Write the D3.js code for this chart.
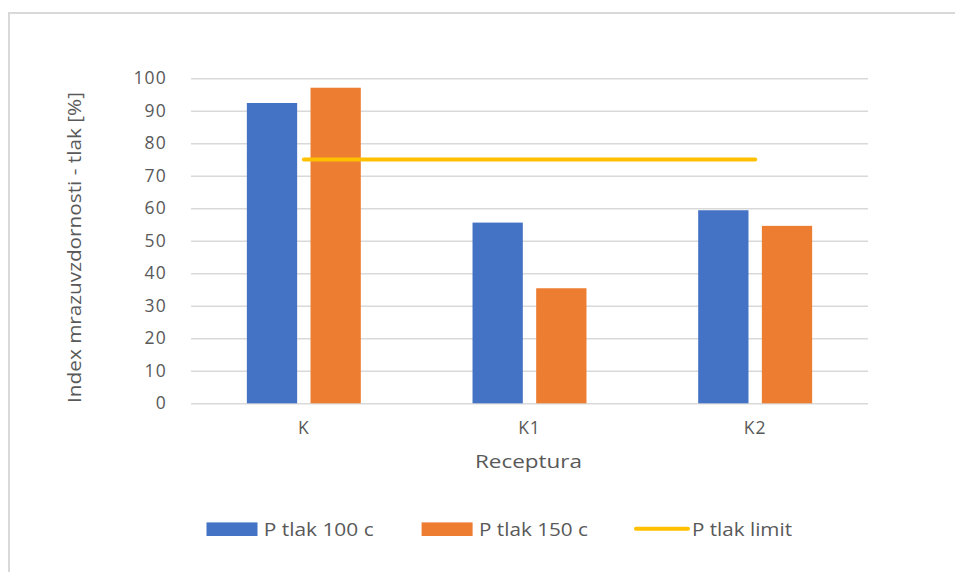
<!DOCTYPE html>
<html>
<head>
<meta charset="utf-8">
<script src="https://cdn.jsdelivr.net/npm/d3@7"></script>
<style>
  html, body { margin: 0; padding: 0; background: #ffffff; }
  svg { display: block; }
  text { font-family: "Open Sans", "Noto Sans", sans-serif; fill: #595959; }
</style>
</head>
<body>
<svg id="chart" width="955" height="572"></svg>
<script>
// Recipes on the category axis
const categories = ["K", "K1", "K2"];
// Series names
const seriesNames = ["P tlak 100 c", "P tlak 150 c"];
// Frost-resistance index (pressure) per recipe, %
const tlak100 = [92.4, 55.6, 59.4];
const tlak150 = [97.1, 35.4, 54.6];
// Required limit, same for every recipe
const limitName = "P tlak limit";
const limitValues = [75, 75, 75];
// Value-axis ticks
const yTicks = [0, 10, 20, 30, 40, 50, 60, 70, 80, 90, 100];

const colors = { blue: "#4472c4", orange: "#ed7d31", limit: "#ffc000", grid: "#d9d9d9", text: "#595959" };

const svg = d3.select("#chart");
const W = 955, H = 572;

// Chart frame
svg.append("rect")
  .attr("x", 9).attr("y", 13)
  .attr("width", W + 20).attr("height", H + 20)
  .attr("fill", "#ffffff")
  .attr("stroke", colors.grid).attr("stroke-width", 2);

const plot = { left: 191, right: 868, top: 78.3, bottom: 403.3 };

const x0 = d3.scaleBand()
  .domain(categories)
  .range([plot.left, plot.right])
  .paddingInner(0.495)
  .paddingOuter(0.2475);

const x1 = d3.scaleBand()
  .domain(seriesNames)
  .range([0, x0.bandwidth()])
  .paddingInner(0.21);

const y = d3.scaleLinear().domain([0, 100]).range([plot.bottom, plot.top]);

// Horizontal gridlines and value labels
const yAxis = d3.axisLeft(y)
  .tickValues(yTicks)
  .tickSize(-(plot.right - plot.left))
  .tickPadding(24)
  .tickFormat(d3.format("d"));

const gY = svg.append("g")
  .attr("transform", `translate(${plot.left},0)`)
  .call(yAxis);
gY.select(".domain").remove();
gY.selectAll(".tick line").attr("stroke", colors.grid).attr("stroke-width", 1.5);
gY.selectAll(".tick text")
  .attr("fill", colors.text)
  .style("font-size", "17.5px")
  .style("letter-spacing", "1.2px")
  .style("font-family", "'Open Sans', sans-serif");

// Category labels
const xAxis = d3.axisBottom(x0).tickSize(0).tickPadding(18);
const gX = svg.append("g")
  .attr("transform", `translate(0,${plot.bottom})`)
  .call(xAxis);
gX.select(".domain").remove();
gX.selectAll(".tick text")
  .attr("fill", colors.text)
  .style("font-size", "17.5px")
  .style("letter-spacing", "1px")
  .style("font-family", "'Open Sans', sans-serif");

// Bars
const rows = categories.map((c, i) => ({ cat: c, vals: [tlak100[i], tlak150[i]] }));
const seriesColor = d3.scaleOrdinal().domain(seriesNames).range([colors.blue, colors.orange]);

svg.append("g").selectAll("g")
  .data(rows)
  .join("g")
  .attr("transform", d => `translate(${x0(d.cat)},0)`)
  .selectAll("rect")
  .data(d => d.vals.map((v, j) => ({ name: seriesNames[j], v })))
  .join("rect")
  .attr("x", d => x1(d.name))
  .attr("width", x1.bandwidth())
  .attr("y", d => y(d.v))
  .attr("height", d => y(0) - y(d.v))
  .attr("fill", d => seriesColor(d.name));

// Limit line
const line = d3.line()
  .x((d, i) => x0(categories[i]) + x0.bandwidth() / 2)
  .y(d => y(d));
svg.append("path")
  .datum(limitValues)
  .attr("d", line)
  .attr("fill", "none")
  .attr("stroke", colors.limit)
  .attr("stroke-width", 4)
  .attr("stroke-linecap", "round");

// Axis titles
svg.append("text")
  .attr("transform", `translate(81,247.5) rotate(-90)`)
  .attr("text-anchor", "middle")
  .attr("textLength", 311)
  .attr("lengthAdjust", "spacingAndGlyphs")
  .style("font-size", "18px")
  .text("Index mrazuvzdornosti - tlak [%]");

svg.append("text")
  .attr("x", 475).attr("y", 468)
  .attr("textLength", 107)
  .attr("lengthAdjust", "spacingAndGlyphs")
  .style("font-size", "18px")
  .text("Receptura");

// Legend
const legend = svg.append("g");
const legendItems = [
  { name: seriesNames[0], type: "rect", color: colors.blue, x: 206.5, textX: 263.7, w: 110 },
  { name: seriesNames[1], type: "rect", color: colors.orange, x: 421.6, textX: 479, w: 109 },
  { name: limitName, type: "line", color: colors.limit, x: 636, textX: 692, w: 100 }
];
legendItems.forEach(it => {
  if (it.type === "rect") {
    legend.append("rect")
      .attr("x", it.x).attr("y", 522.4)
      .attr("width", 51).attr("height", 13.6)
      .attr("fill", it.color);
  } else {
    legend.append("line")
      .attr("x1", it.x).attr("x2", it.x + 52)
      .attr("y1", 528.8).attr("y2", 528.8)
      .attr("stroke", it.color).attr("stroke-width", 4)
      .attr("stroke-linecap", "round");
  }
  legend.append("text")
    .attr("x", it.textX).attr("y", 535.5)
    .attr("textLength", it.w)
    .attr("lengthAdjust", "spacingAndGlyphs")
    .style("font-size", "18px")
    .text(it.name);
});
</script>
</body>
</html>
